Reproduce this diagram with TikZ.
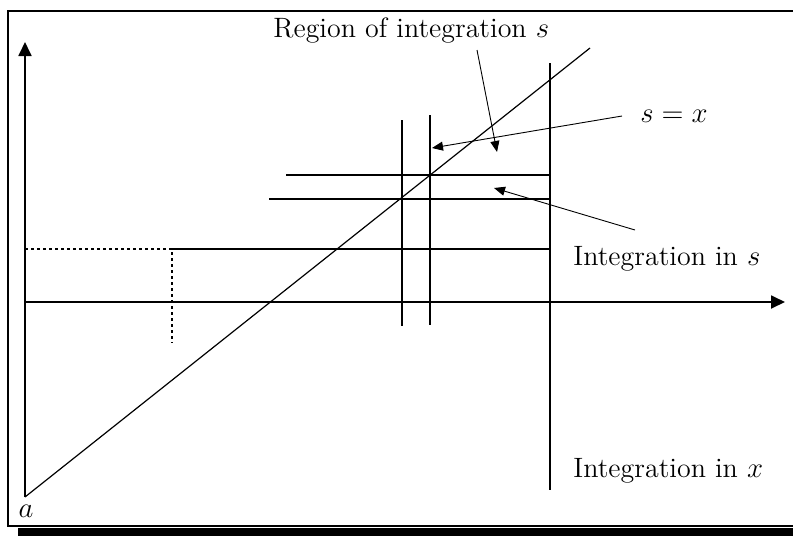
\documentclass[tikz,border=0pt]{standalone}
\usepackage{amsmath,amssymb}
\usetikzlibrary{arrows.meta}

\begin{document}
\begin{tikzpicture}[
  x=0.5pt, y=-0.5pt, every node/.style={font=\fontsize{14}{16}\selectfont, inner sep=0pt},
  axis/.style={line width=0.9pt, -{Triangle[length=7pt, width=6.5pt]}},
  guide/.style={line width=0.6pt},
  pointer/.style={line width=0.45pt, -{Triangle[length=5.5pt, width=4.5pt]}},
  dots/.style={line width=0.7pt, dash pattern=on 1.5pt off 1.5pt}
]
  \useasboundingbox (0,0) rectangle (793,536);
  % frame with shadow
  \draw[line width=0.8pt] (793,11) -- (8,11) -- (8,526) -- (793,526);
  \fill (18,528) rectangle (793,536);

  % axes and the line s = x
  \coordinate (a) at (25,497);
  \coordinate (ytop) at (25,42);
  \coordinate (origin) at (25,302);
  \coordinate (xend) at (785,302);
  \coordinate (diagend) at (590,48);
  \draw[axis] (a) -- (ytop);
  \draw[axis] (origin) -- (xend);
  \draw[guide] (a) -- (diagend);

  % strips
  \draw[guide] (550,63) -- (550,490);
  \draw[guide] (402,120) -- (402,326);
  \draw[guide] (430,115) -- (430,325);
  \draw[guide] (286,175) -- (550,175);
  \draw[guide] (269,199) -- (550,199);
  \draw[guide] (172,249) -- (550,249);
  \draw[dots] (25,249) -- (172,249) -- (172,343);

  % labels
  \node[anchor=base west] (region) at (273,37) {Region of integration $s$};
  \node[anchor=base west] (sx) at (640,122) {$s = x$};
  \node[anchor=base west] (ins) at (573,265) {Integration in $s$};
  \node[anchor=base west] (inx) at (573,477) {Integration in $x$};
  \node (alabel) at (26,511) {$a$};

  % pointers
  \coordinate (regtail) at (477,50);
  \coordinate (regtip) at (497,152);
  \coordinate (sxtail) at (622,116);
  \coordinate (sxtip) at (432,148);
  \coordinate (instail) at (635,230);
  \coordinate (instip) at (494,188);
  \draw[pointer] (regtail) -- (regtip);
  \draw[pointer] (sxtail) -- (sxtip);
  \draw[pointer] (instail) -- (instip);
\end{tikzpicture}
\end{document}
